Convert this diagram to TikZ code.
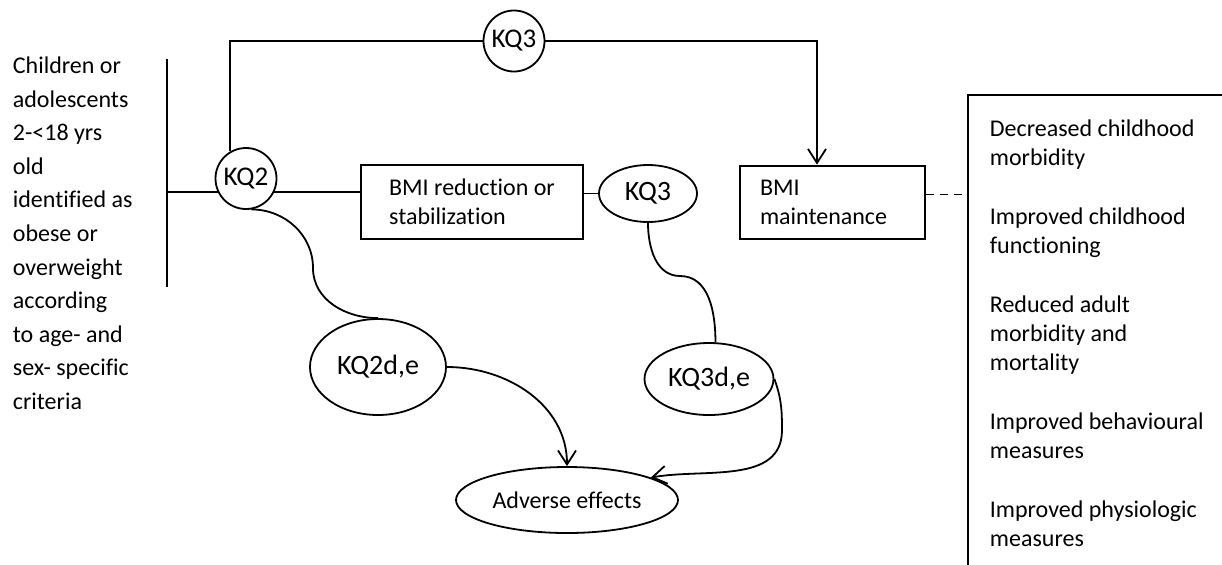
\documentclass[tikz,border=0pt]{standalone}
\usepackage{fontspec}
\setmainfont{Carlito}[Ligatures=NoCommon]
\usetikzlibrary{shapes.geometric,arrows.meta}
\tikzset{
	kqcirc/.style={draw,circle,inner sep=0pt,minimum size=30.5pt,font=\fontsize{13.5}{16}\selectfont},
	kqell/.style={draw,ellipse,inner sep=0pt,font=\fontsize{14}{17}\selectfont},
	bmibox/.style={draw,rectangle,align=left,inner ysep=0pt,font=\fontsize{12}{14.5}\selectfont},
	plaintxt/.style={anchor=north west,align=left,inner sep=0pt},
	arr/.style={-{Straight Barb[length=7pt,width=9pt]}},
}
\begin{document}
\begin{tikzpicture}[x=0.5pt,y=-0.5pt,line width=0.9pt]
		\useasboundingbox (0,0) rectangle (1222,564);
		% population
		\node[plaintxt,font=\fontsize{12}{16.8}\selectfont] (popn) at (12,56) {Children or\\adolescents\\2-<18 yrs\\old\\identified as\\obese or\\overweight\\according\\to age- and\\sex- specific\\criteria};
		\coordinate (vt) at (167,59); \coordinate (vb) at (167,287);
		\draw (vt)--(vb);
		% intermediate outcomes
		\node[kqcirc] (kqtwo) at (246,178.5) {KQ2};
		\node[bmibox,minimum width=111pt,minimum height=37pt] (bmired) at (472,202) {BMI reduction or\\stabilization};
		\node[kqell,minimum width=49pt,minimum height=28.5pt] (kqthreeb) at (648,193.5) {KQ3};
		\node[bmibox,line width=1.4pt,minimum width=92.5pt,minimum height=36.5pt,text width=72.5pt,inner xsep=10pt] (bmimain) at (832.5,202.5) {BMI\\maintenance};
		\draw (kqtwo.205 -| vt)--(kqtwo.205);
		\draw (kqtwo.-25)--(kqtwo.-25 -| bmired.west);
		\draw (kqthreeb.west -| bmired.east)--(kqthreeb.west);
		% top path
		\node[kqcirc] (kqthreea) at (514,41) {KQ3};
		\coordinate (tl) at (231,41); \coordinate (tr) at (817,41);
		\draw (kqtwo.120)--(kqtwo.120 |- tl)--(kqthreea);
		\draw[arr] (kqthreea)--(tr)--(bmimain.north -| tr);
		% final outcomes
		\coordinate (ot) at (968,95);
		\draw (968,570)--(ot)--(1230,95);
		\node[plaintxt,font=\fontsize{12}{14.5}\selectfont] (outc) at (989,119) {Decreased childhood\\morbidity\\[15pt]Improved childhood\\functioning\\[15pt]Reduced adult\\morbidity and\\mortality\\[15pt]Improved behavioural\\measures\\[15pt]Improved physiologic\\measures};
		\draw[dash pattern=on 4pt off 3pt] ([yshift=4pt]bmimain.east)--([yshift=4pt]bmimain.east -| ot);
		% harms
		\node[kqell,minimum width=68pt,minimum height=48pt] (kqtwoad) at (378,367) {KQ2d,e};
		\node[kqell,minimum width=64.5pt,minimum height=36pt] (kqthreead) at (709,379) {KQ3d,e};
		\node[draw,ellipse,inner sep=0pt,minimum width=111pt,minimum height=33pt,font=\fontsize{12}{14.5}\selectfont] (adverse) at (567,500) {Adverse effects};
		\draw (kqtwo.-80) to[out=0,in=90] (313,268) to[out=-90,in=180] (kqtwoad.north);
		\draw (kqthreeb.-90) to[out=-90,in=180] (680,276) to[out=0,in=90] (kqthreead.80);
		\draw[arr] (kqtwoad.east) to[out=0,in=90] (adverse.north);
		\draw[arr] (kqthreead.east) to[out=-70,in=90] (782,430) to[out=-90,in=10] (adverse.15);
\end{tikzpicture}
\end{document}
